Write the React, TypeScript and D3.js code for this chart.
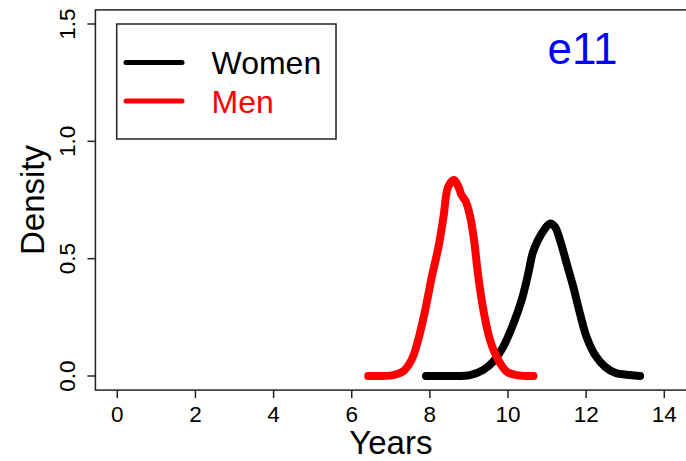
import { useEffect, useRef } from 'react'
import * as d3 from 'd3'

// density curves: [years, density]
const womenYears = [7.9, 8.52, 9.03, 9.37, 9.62, 9.88, 10.14, 10.35, 10.52, 10.63, 10.77, 10.95, 11.08, 11.2, 11.33, 11.5, 11.67, 11.84, 12.01, 12.23, 12.48, 12.74, 13.12, 13.38]
const womenDensity = [0, 0, 0.004, 0.026, 0.061, 0.125, 0.224, 0.324, 0.438, 0.523, 0.58, 0.629, 0.65, 0.636, 0.58, 0.48, 0.38, 0.267, 0.167, 0.089, 0.04, 0.014, 0.004, 0]

const menYears = [6.42, 7.06, 7.32, 7.53, 7.7, 7.88, 8.05, 8.22, 8.35, 8.47, 8.62, 8.73, 8.81, 8.92, 9.03, 9.13, 9.24, 9.37, 9.54, 9.75, 9.97, 10.22, 10.65]
const menDensity = [0, 0.004, 0.02, 0.068, 0.153, 0.281, 0.423, 0.55, 0.68, 0.807, 0.835, 0.807, 0.771, 0.743, 0.68, 0.58, 0.423, 0.281, 0.153, 0.068, 0.018, 0.004, 0]

const xTicks = [0, 2, 4, 6, 8, 10, 12, 14]
const yTicks = [0, 0.5, 1.0, 1.5]

const seriesNames = ['Women', 'Men']
const seriesColors = ['#000000', '#ff0000']

const FONT = '"Liberation Sans", Arial, Helvetica, sans-serif'

export default function App() {
  const ref = useRef<SVGSVGElement>(null)

  useEffect(() => {
    if (!ref.current) return
    const svg = d3.select(ref.current)
    svg.selectAll('*').remove()

    const width = 686
    const height = 461

    // scales fixed on tick positions (R style, 4% padding around data range)
    const x = d3.scaleLinear().domain([0, 14]).range([117.3, 664.3])
    const y = d3.scaleLinear().domain([0, 1.5]).range([376, 24])

    // right edge of the box falls just outside the picture
    const x0 = x(-0.56), x1 = x(14.65)
    const yTop = y(1.56), yBot = y(-0.06)

    svg.attr('width', width).attr('height', height)
      .attr('viewBox', `0 0 ${width} ${height}`)

    svg.append('rect').attr('width', width).attr('height', height).attr('fill', '#fff')

    // box
    svg.append('rect')
      .attr('x', x0).attr('y', yTop)
      .attr('width', x1 - x0).attr('height', yBot - yTop)
      .attr('fill', 'none').attr('stroke', '#222').attr('stroke-width', 1.5)

    // x axis
    const xa = svg.append('g')
    xTicks.forEach(t => {
      xa.append('line')
        .attr('x1', x(t)).attr('x2', x(t))
        .attr('y1', yBot).attr('y2', yBot + 8)
        .attr('stroke', '#222').attr('stroke-width', 1.5)
      xa.append('text')
        .attr('x', x(t)).attr('y', 422)
        .attr('text-anchor', 'middle')
        .attr('font-family', FONT).attr('font-size', '22.5px')
        .text(d3.format('d')(t))
    })

    // y axis (labels rotated like R's default)
    const ya = svg.append('g')
    yTicks.forEach(t => {
      ya.append('line')
        .attr('x1', x0 - 8).attr('x2', x0)
        .attr('y1', y(t)).attr('y2', y(t))
        .attr('stroke', '#222').attr('stroke-width', 1.5)
      ya.append('text')
        .attr('transform', `translate(75,${y(t)}) rotate(-90)`)
        .attr('text-anchor', 'middle')
        .attr('font-family', FONT).attr('font-size', '22.5px')
        .text(d3.format('.1f')(t))
    })

    // axis titles
    svg.append('text')
      .attr('x', (x0 + x(14.56)) / 2).attr('y', 454)
      .attr('text-anchor', 'middle')
      .attr('font-family', FONT).attr('font-size', '33px')
      .text('Years')

    svg.append('text')
      .attr('transform', `translate(44,${(yTop + yBot) / 2}) rotate(-90)`)
      .attr('text-anchor', 'middle')
      .attr('font-family', FONT).attr('font-size', '33px')
      .text('Density')

    // curves
    const line = d3.line<[number, number]>()
      .x(d => x(d[0])).y(d => y(d[1]))
      .curve(d3.curveCatmullRom.alpha(0.5))

    const series: [number, number][][] = [
      d3.zip(womenYears, womenDensity) as [number, number][],
      d3.zip(menYears, menDensity) as [number, number][],
    ]

    series.forEach((s, i) => {
      svg.append('path')
        .attr('d', line(s))
        .attr('fill', 'none')
        .attr('stroke', seriesColors[i])
        .attr('stroke-width', 8)
        .attr('stroke-linecap', 'round')
        .attr('stroke-linejoin', 'round')
    })

    // legend
    svg.append('rect')
      .attr('x', 116.7).attr('y', 24)
      .attr('width', 219.3).attr('height', 115)
      .attr('fill', '#fff').attr('stroke', '#222').attr('stroke-width', 1.5)

    seriesNames.forEach((name, i) => {
      const ly = 62.5 + i * 38.5
      svg.append('line')
        .attr('x1', 126).attr('x2', 182)
        .attr('y1', ly).attr('y2', ly)
        .attr('stroke', seriesColors[i]).attr('stroke-width', 5)
        .attr('stroke-linecap', 'round')
      svg.append('text')
        .attr('x', 211.5).attr('y', ly + 11.8)
        .attr('font-family', FONT).attr('font-size', '32px')
        .attr('fill', seriesColors[i])
        .text(name)
    })

    // panel label
    svg.append('text')
      .attr('x', 582.5).attr('y', 63.5)
      .attr('text-anchor', 'middle')
      .attr('font-family', FONT).attr('font-size', '44px')
      .attr('fill', '#0000ff')
      .text('e11')
  }, [])

  return (
    <div style={{ position: 'absolute', left: 0, top: 0, width: 686, height: 461, overflow: 'hidden' }}>
      <svg ref={ref} style={{ display: 'block' }} />
    </div>
  )
}
